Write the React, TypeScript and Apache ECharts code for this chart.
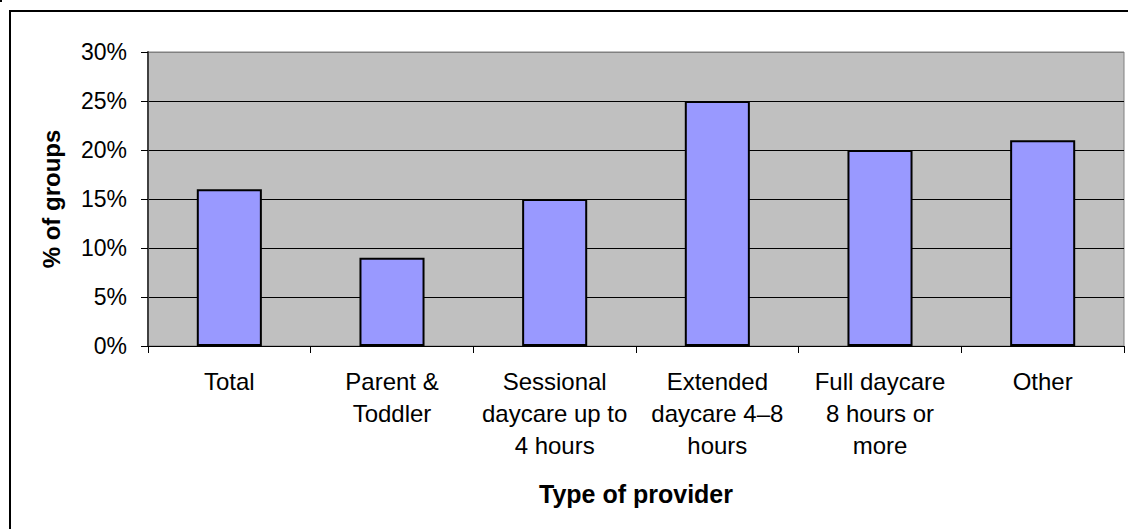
import React, { useEffect, useRef } from "react";
import * as echarts from "echarts";

const categories = [
  "Total",
  "Parent &\nToddler",
  "Sessional\ndaycare up to\n4 hours",
  "Extended\ndaycare 4–8\nhours",
  "Full daycare\n8 hours or\nmore",
  "Other",
];
const values = [16, 9, 15, 25, 20, 21];
const yTicks = { min: 0, max: 30, interval: 5 };
const xTitle = "Type of provider";
const yTitle = "% of groups";

const FONT = "'Liberation Sans', Arial, sans-serif";

export default function App() {
  const ref = useRef<HTMLDivElement>(null);
  useEffect(() => {
    if (!ref.current) return;
    const chart = echarts.init(ref.current, undefined, { renderer: "svg" });
    chart.setOption({
      animation: false,
      backgroundColor: "#ffffff",
      textStyle: { fontFamily: FONT },
      grid: {
        left: 148,
        top: 52,
        right: 4,
        bottom: 183,
        show: true,
        backgroundColor: "#C0C0C0",
        borderColor: "#808080",
        borderWidth: 1,
        containLabel: false,
      },
      xAxis: {
        type: "category",
        data: categories,
        axisLine: { show: true, lineStyle: { color: "#000", width: 1 } },
        axisTick: { show: true, length: 7, alignWithLabel: false, lineStyle: { color: "#000" } },
        axisLabel: {
          interval: 0,
          fontSize: 24,
          color: "#000",
          lineHeight: 32,
          margin: 19,
          fontFamily: FONT,
        },
        splitLine: { show: false },
      },
      yAxis: {
        type: "value",
        min: yTicks.min,
        max: yTicks.max,
        interval: yTicks.interval,
        axisLine: { show: true, lineStyle: { color: "#404040", width: 2 } },
        axisTick: { show: true, length: 7, lineStyle: { color: "#000" } },
        axisLabel: {
          formatter: "{value}%",
          fontSize: 23,
          color: "#000",
          margin: 21,
          fontFamily: FONT,
        },
        splitLine: {
          show: true,
          lineStyle: {
            color: ["#000", "#000", "#000", "#000", "#000", "#000", "#808080"],
            width: 1,
          },
        },
      },
      series: [
        {
          type: "bar",
          data: values,
          barWidth: "40%",
          itemStyle: { color: "#9999FF", borderColor: "#000", borderWidth: 2 },
        },
      ],
      graphic: [
        {
          type: "rect",
          shape: { x: 10, y: 11, width: 1300, height: 700 },
          style: { fill: "none", stroke: "#000", lineWidth: 2 },
          silent: true,
        },
        {
          type: "rect",
          shape: { x: 0, y: 0, width: 2, height: 2 },
          style: { fill: "#000" },
          silent: true,
        },
        {
          type: "text",
          x: 51,
          y: 199,
          rotation: Math.PI / 2,
          style: {
            text: yTitle,
            fontSize: 24,
            fontWeight: "bold",
            fontFamily: FONT,
            fill: "#000",
            align: "center",
            verticalAlign: "middle",
          },
        },
        {
          type: "text",
          x: 636,
          y: 494,
          style: {
            text: xTitle,
            fontSize: 25,
            fontWeight: "bold",
            fontFamily: FONT,
            fill: "#000",
            align: "center",
            verticalAlign: "middle",
          },
        },
      ],
    });
    return () => chart.dispose();
  }, []);
  return (
    <div
      ref={ref}
      style={{ position: "absolute", left: 0, top: 0, width: 1128, height: 529 }}
    />
  );
}
